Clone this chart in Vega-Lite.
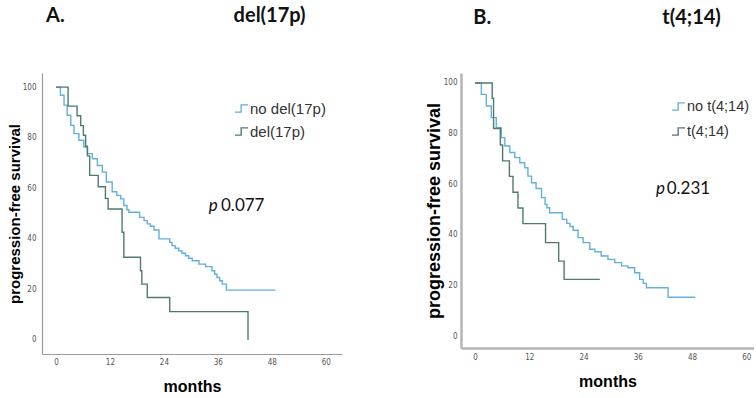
{
  "$schema": "https://vega.github.io/schema/vega-lite/v6.json",
  "background": "white",
  "padding": {"left": 7, "top": 5, "right": 0, "bottom": 0},
  "spacing": 83,
  "config": {
    "view": {"stroke": null},
    "axis": {"grid": false, "ticks": false, "tickSize": 0, "labelFont": "Liberation Sans Narrow, DejaVu Sans Condensed, Liberation Sans", "labelFontSize": 8, "labelColor": "#555555", "titleFont": "Liberation Sans", "titleFontWeight": "bold", "titleColor": "#000000"}
  },
  "resolve": {"scale": {"x": "independent", "y": "independent", "color": "independent"}},
  "datasets": {
    "del17p": [
      {"group": "no del(17p)", "month": 0, "surv": 100},
      {"group": "no del(17p)", "month": 1.0, "surv": 96.8},
      {"group": "no del(17p)", "month": 1.8, "surv": 92.9},
      {"group": "no del(17p)", "month": 2.5, "surv": 88.9},
      {"group": "no del(17p)", "month": 3.3, "surv": 84.9},
      {"group": "no del(17p)", "month": 4.0, "surv": 81.6},
      {"group": "no del(17p)", "month": 5.1, "surv": 79.0},
      {"group": "no del(17p)", "month": 6.2, "surv": 76.3},
      {"group": "no del(17p)", "month": 7.0, "surv": 73.7},
      {"group": "no del(17p)", "month": 8.1, "surv": 71.7},
      {"group": "no del(17p)", "month": 9.2, "surv": 69.0},
      {"group": "no del(17p)", "month": 10.3, "surv": 66.4},
      {"group": "no del(17p)", "month": 11.2, "surv": 62.5},
      {"group": "no del(17p)", "month": 12.5, "surv": 58.6},
      {"group": "no del(17p)", "month": 13.5, "surv": 57.2},
      {"group": "no del(17p)", "month": 14.4, "surv": 55.8},
      {"group": "no del(17p)", "month": 15.1, "surv": 53.2},
      {"group": "no del(17p)", "month": 15.8, "surv": 51.5},
      {"group": "no del(17p)", "month": 16.2, "surv": 50.5},
      {"group": "no del(17p)", "month": 18.6, "surv": 48.5},
      {"group": "no del(17p)", "month": 19.6, "surv": 47.2},
      {"group": "no del(17p)", "month": 20.3, "surv": 45.9},
      {"group": "no del(17p)", "month": 21.0, "surv": 45.0},
      {"group": "no del(17p)", "month": 21.8, "surv": 43.5},
      {"group": "no del(17p)", "month": 22.9, "surv": 40.0},
      {"group": "no del(17p)", "month": 25.3, "surv": 38.6},
      {"group": "no del(17p)", "month": 25.8, "surv": 37.3},
      {"group": "no del(17p)", "month": 26.5, "surv": 36.3},
      {"group": "no del(17p)", "month": 27.3, "surv": 35.3},
      {"group": "no del(17p)", "month": 28.0, "surv": 34.3},
      {"group": "no del(17p)", "month": 28.8, "surv": 33.3},
      {"group": "no del(17p)", "month": 29.5, "surv": 32.3},
      {"group": "no del(17p)", "month": 30.3, "surv": 31.3},
      {"group": "no del(17p)", "month": 31.8, "surv": 30.0},
      {"group": "no del(17p)", "month": 33.3, "surv": 29.0},
      {"group": "no del(17p)", "month": 34.7, "surv": 27.4},
      {"group": "no del(17p)", "month": 35.3, "surv": 26.0},
      {"group": "no del(17p)", "month": 35.8, "surv": 24.7},
      {"group": "no del(17p)", "month": 36.4, "surv": 23.4},
      {"group": "no del(17p)", "month": 37.0, "surv": 22.1},
      {"group": "no del(17p)", "month": 37.9, "surv": 19.7},
      {"group": "no del(17p)", "month": 48.8, "surv": 19.7},
      {"group": "del(17p)", "month": 0, "surv": 100},
      {"group": "del(17p)", "month": 2.7, "surv": 92.5},
      {"group": "del(17p)", "month": 4.7, "surv": 88.7},
      {"group": "del(17p)", "month": 5.5, "surv": 84.8},
      {"group": "del(17p)", "month": 6.1, "surv": 81.0},
      {"group": "del(17p)", "month": 6.6, "surv": 76.6},
      {"group": "del(17p)", "month": 7.0, "surv": 72.8},
      {"group": "del(17p)", "month": 7.5, "surv": 65.1},
      {"group": "del(17p)", "month": 9.4, "surv": 60.6},
      {"group": "del(17p)", "month": 11.0, "surv": 56.0},
      {"group": "del(17p)", "month": 11.6, "surv": 51.8},
      {"group": "del(17p)", "month": 14.7, "surv": 42.6},
      {"group": "del(17p)", "month": 15.1, "surv": 32.7},
      {"group": "del(17p)", "month": 18.8, "surv": 27.4},
      {"group": "del(17p)", "month": 19.1, "surv": 22.1},
      {"group": "del(17p)", "month": 20.3, "surv": 16.8},
      {"group": "del(17p)", "month": 25.3, "surv": 11.2},
      {"group": "del(17p)", "month": 42.7, "surv": 0}
    ],
    "t414": [
      {"group": "no t(4;14)", "month": 0, "surv": 100},
      {"group": "no t(4;14)", "month": 1.4, "surv": 95.5},
      {"group": "no t(4;14)", "month": 2.5, "surv": 90.9},
      {"group": "no t(4;14)", "month": 3.6, "surv": 86.3},
      {"group": "no t(4;14)", "month": 4.7, "surv": 82.3},
      {"group": "no t(4;14)", "month": 5.8, "surv": 78.4},
      {"group": "no t(4;14)", "month": 6.6, "surv": 75.1},
      {"group": "no t(4;14)", "month": 7.7, "surv": 72.5},
      {"group": "no t(4;14)", "month": 8.8, "surv": 70.5},
      {"group": "no t(4;14)", "month": 9.9, "surv": 68.5},
      {"group": "no t(4;14)", "month": 11.0, "surv": 66.5},
      {"group": "no t(4;14)", "month": 11.7, "surv": 63.2},
      {"group": "no t(4;14)", "month": 12.5, "surv": 60.6},
      {"group": "no t(4;14)", "month": 13.5, "surv": 58.3},
      {"group": "no t(4;14)", "month": 14.7, "surv": 54.7},
      {"group": "no t(4;14)", "month": 15.5, "surv": 52.0},
      {"group": "no t(4;14)", "month": 15.9, "surv": 50.7},
      {"group": "no t(4;14)", "month": 16.5, "surv": 48.7},
      {"group": "no t(4;14)", "month": 19.3, "surv": 46.1},
      {"group": "no t(4;14)", "month": 20.3, "surv": 44.5},
      {"group": "no t(4;14)", "month": 21.0, "surv": 43.3},
      {"group": "no t(4;14)", "month": 21.7, "surv": 41.8},
      {"group": "no t(4;14)", "month": 22.8, "surv": 38.9},
      {"group": "no t(4;14)", "month": 23.9, "surv": 36.9},
      {"group": "no t(4;14)", "month": 25.4, "surv": 34.3},
      {"group": "no t(4;14)", "month": 26.5, "surv": 33.3},
      {"group": "no t(4;14)", "month": 27.9, "surv": 31.6},
      {"group": "no t(4;14)", "month": 29.4, "surv": 30.3},
      {"group": "no t(4;14)", "month": 30.9, "surv": 29.0},
      {"group": "no t(4;14)", "month": 32.4, "surv": 27.7},
      {"group": "no t(4;14)", "month": 33.8, "surv": 27.0},
      {"group": "no t(4;14)", "month": 35.3, "surv": 25.0},
      {"group": "no t(4;14)", "month": 36.4, "surv": 22.4},
      {"group": "no t(4;14)", "month": 37.2, "surv": 20.8},
      {"group": "no t(4;14)", "month": 37.9, "surv": 19.1},
      {"group": "no t(4;14)", "month": 42.7, "surv": 15.3},
      {"group": "no t(4;14)", "month": 48.7, "surv": 15.3},
      {"group": "t(4;14)", "month": 0, "surv": 100},
      {"group": "t(4;14)", "month": 3.8, "surv": 94.0},
      {"group": "t(4;14)", "month": 4.1, "surv": 82.0},
      {"group": "t(4;14)", "month": 5.6, "surv": 75.5},
      {"group": "t(4;14)", "month": 6.1, "surv": 69.2},
      {"group": "t(4;14)", "month": 7.6, "surv": 63.1},
      {"group": "t(4;14)", "month": 8.4, "surv": 56.8},
      {"group": "t(4;14)", "month": 9.5, "surv": 50.6},
      {"group": "t(4;14)", "month": 10.6, "surv": 44.4},
      {"group": "t(4;14)", "month": 15.6, "surv": 36.9},
      {"group": "t(4;14)", "month": 18.5, "surv": 29.6},
      {"group": "t(4;14)", "month": 19.7, "surv": 22.4},
      {"group": "t(4;14)", "month": 27.6, "surv": 22.4}
    ]
  },
  "hconcat": [
    {
      "width": 300,
      "height": 281,
      "layer": [
        {
          "data": {"name": "del17p"},
          "mark": {"type": "line", "interpolate": "step-after", "strokeWidth": 1.4},
          "encoding": {
            "x": {"field": "month", "type": "quantitative", "scale": {"domain": [-3.1, 63.6], "nice": false, "zero": false},
                  "axis": {"values": [0, 12, 24, 36, 48, 60], "title": "months", "titleFontSize": 16, "titlePadding": 12, "labelPadding": 4, "domainColor": "#9a9a9a", "domainWidth": 1.2}},
            "y": {"field": "surv", "type": "quantitative", "scale": {"domain": [-5.56, 105.6], "nice": false, "zero": false},
                  "axis": {"values": [0, 20, 40, 60, 80, 100], "title": "progression-free survival", "titleFontSize": 15, "titlePadding": 0, "labelPadding": 6, "domainColor": "#9a9a9a", "domainWidth": 1.2}},
            "color": {"field": "group", "type": "nominal", "sort": ["no del(17p)", "del(17p)"],
                      "scale": {"domain": ["no del(17p)", "del(17p)"], "range": ["#62B0DC", "#4F7A72"]},
                      "legend": {"orient": "none", "legendX": 192, "legendY": 28, "title": null, "symbolType": "M -1 0.55 L -0.05 0.55 L -0.05 -0.55 L 1 -0.55", "symbolSize": 170, "symbolStrokeWidth": 1.4, "symbolFillColor": "transparent", "labelFont": "Liberation Sans", "labelFontSize": 15, "labelColor": "#333333", "rowPadding": 7, "labelOffset": 1}}
          }
        },
        {
          "data": {"values": [{}]},
          "mark": {"type": "text", "text": "p", "font": "Lato", "fontStyle": "italic", "fontSize": 17, "align": "left", "baseline": "middle", "color": "#111111"},
          "encoding": {"x": {"datum": 34}, "y": {"datum": 52.8}}
        },
        {
          "data": {"values": [{}]},
          "mark": {"type": "text", "text": "0.077", "font": "Lato", "fontSize": 17, "align": "left", "baseline": "middle", "color": "#111111"},
          "encoding": {"x": {"datum": 36.7}, "y": {"datum": 52.8}}
        },
        {
          "data": {"values": [{}]},
          "mark": {"type": "text", "text": "A.", "font": "Lato", "fontWeight": "bold", "fontSize": 20, "align": "left", "baseline": "middle", "color": "#111111"},
          "encoding": {"x": {"datum": -2.2}, "y": {"datum": 128.2}}
        },
        {
          "data": {"values": [{}]},
          "mark": {"type": "text", "text": "del(17p)", "font": "Lato", "fontWeight": "bold", "fontSize": 20, "align": "left", "baseline": "middle", "color": "#111111"},
          "encoding": {"x": {"datum": 39.5}, "y": {"datum": 128.2}}
        }
      ]
    },
    {
      "width": 293,
      "height": 275,
      "layer": [
        {
          "data": {"name": "t414"},
          "mark": {"type": "line", "interpolate": "step-after", "strokeWidth": 1.4},
          "encoding": {
            "x": {"field": "month", "type": "quantitative", "scale": {"domain": [-3.1, 61.7], "nice": false, "zero": false},
                  "axis": {"values": [0, 12, 24, 36, 48, 60], "title": "months", "titleFontSize": 16, "titlePadding": 12, "labelPadding": 5, "domainColor": "#b5b5b5", "domainWidth": 2.5}},
            "y": {"field": "surv", "type": "quantitative", "scale": {"domain": [-4.74, 103.95], "nice": false, "zero": false},
                  "axis": {"values": [0, 20, 40, 60, 80, 100], "title": "progression-free survival", "titleFontSize": 18, "titlePadding": 0, "labelPadding": 4, "domainColor": "#b5b5b5", "domainWidth": 2.5}},
            "color": {"field": "group", "type": "nominal", "sort": ["no t(4;14)", "t(4;14)"],
                      "scale": {"domain": ["no t(4;14)", "t(4;14)"], "range": ["#62B0DC", "#4F7A72"]},
                      "legend": {"orient": "none", "legendX": 210, "legendY": 26, "title": null, "symbolType": "M -1 0.55 L -0.05 0.55 L -0.05 -0.55 L 1 -0.55", "symbolSize": 170, "symbolStrokeWidth": 1.4, "symbolFillColor": "transparent", "labelFont": "Liberation Sans", "labelFontSize": 14.5, "labelColor": "#333333", "rowPadding": 10, "labelOffset": 1}}
          }
        },
        {
          "data": {"values": [{}]},
          "mark": {"type": "text", "text": "p", "font": "Lato", "fontStyle": "italic", "fontSize": 17, "align": "left", "baseline": "middle", "color": "#111111"},
          "encoding": {"x": {"datum": 40.0}, "y": {"datum": 58.1}}
        },
        {
          "data": {"values": [{}]},
          "mark": {"type": "text", "text": "0.231", "font": "Lato", "fontSize": 17, "align": "left", "baseline": "middle", "color": "#111111"},
          "encoding": {"x": {"datum": 42.4}, "y": {"datum": 58.1}}
        },
        {
          "data": {"values": [{}]},
          "mark": {"type": "text", "text": "B.", "font": "Lato", "fontWeight": "bold", "fontSize": 20, "align": "left", "baseline": "middle", "color": "#111111"},
          "encoding": {"x": {"datum": -0.4}, "y": {"datum": 125.8}}
        },
        {
          "data": {"values": [{}]},
          "mark": {"type": "text", "text": "t(4;14)", "font": "Lato", "fontWeight": "bold", "fontSize": 20, "align": "left", "baseline": "middle", "color": "#111111"},
          "encoding": {"x": {"datum": 41.4}, "y": {"datum": 125.8}}
        }
      ]
    }
  ]
}
